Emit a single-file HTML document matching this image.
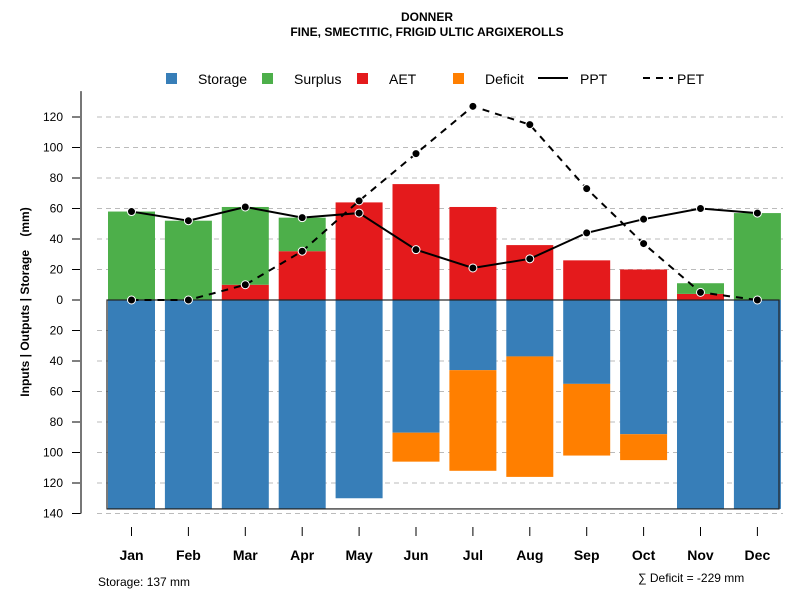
<!DOCTYPE html>
<html><head><meta charset="utf-8"><style>
body{margin:0;background:#fff}
text{font-family:"Liberation Sans",sans-serif;fill:#000}
</style></head><body>
<svg id="chart" width="800" height="600" xmlns="http://www.w3.org/2000/svg">
<text x="427" y="21" font-size="12" font-weight="bold" text-anchor="middle">DONNER</text>
<text x="427" y="36" font-size="12" font-weight="bold" text-anchor="middle">FINE, SMECTITIC, FRIGID ULTIC ARGIXEROLLS</text>
<g id="legend" font-size="14">
<rect x="166" y="73" width="11" height="11" fill="#377EB8"/>
<text x="198" y="84">Storage</text>
<rect x="262" y="73" width="11" height="11" fill="#4DAF4A"/>
<text x="294" y="84">Surplus</text>
<rect x="357" y="73" width="11" height="11" fill="#E41A1C"/>
<text x="389" y="84">AET</text>
<rect x="453" y="73" width="11" height="11" fill="#FF7F00"/>
<text x="485" y="84">Deficit</text>
<line x1="538" y1="78" x2="568" y2="78" stroke="#000" stroke-width="2"/>
<text x="580" y="84">PPT</text>
<line x1="643" y1="78" x2="673" y2="78" stroke="#000" stroke-width="2" stroke-dasharray="7,6"/>
<text x="677" y="84">PET</text>
</g>
<g id="grid"></g><g id="bars"></g><g id="lines"></g><g id="axes"></g>
<text transform="translate(29,302) rotate(-90)" font-size="12" font-weight="bold" text-anchor="middle" xml:space="preserve" style="white-space:pre">Inputs | Outputs | Storage    (mm)</text>
<text x="98" y="586" font-size="12">Storage: 137 mm</text>
<text x="638" y="582" font-size="12">∑ Deficit = -229 mm</text>
</svg>
<script>
const months=["Jan","Feb","Mar","Apr","May","Jun","Jul","Aug","Sep","Oct","Nov","Dec"];
const storage=[137,137,137,137,130,87,46,37,55,88,137,137];
const deficit=[0,0,0,0,0,19,66,79,47,17,0,0];
const aet=[0,0,10,32,64,76,61,36,26,20,4,0];
const surplus=[58,52,51,22,0,0,0,0,0,0,7,57];
const ppt=[58,52,61,54,57,33,21,27,44,53,60,57];
const pet=[0,0,10,32,65,96,127,115,73,37,5,0];
const yTicks=[120,100,80,60,40,20,0,-20,-40,-60,-80,-100,-120,-140];
const yLabels=["120","100","80","60","40","20","0","20","40","60","80","100","120","140"];
const NS="http://www.w3.org/2000/svg";
const Y=v=>300-v*1.525;
const X=i=>131.5+i*56.9;
const BW=47;
function mk(p,tag,at){const e=document.createElementNS(NS,tag);for(const k in at)e.setAttribute(k,at[k]);document.getElementById(p).appendChild(e);return e;}
yTicks.forEach((t,i)=>{
 if(t!==0){const g=mk("grid","line",{x1:97,x2:783,y1:Y(t),y2:Y(t),stroke:"#bbb","stroke-dasharray":"5,4"});
 
 }
 const tk=mk("axes","line",{x1:72,x2:81,y1:Y(t),y2:Y(t),stroke:"#000"});
 
 
 const tl=mk("axes","text",{x:63,y:Y(t)+4,"font-size":12,"text-anchor":"end"});tl.textContent=yLabels[i];
 
 
});
const ax=mk("axes","line",{x1:81,x2:81,y1:Y(137),y2:Y(-140),stroke:"#777","stroke-width":2});


months.forEach((m,i)=>{
 const x=X(i)-BW/2;
 const b1=mk("bars","rect",{x:x,y:Y(0),width:BW,height:Y(-storage[i])-Y(0),fill:"#377EB8"});
 
 
 if(deficit[i]>0){const b2=mk("bars","rect",{x:x,y:Y(-storage[i]),width:BW,height:Y(-storage[i]-deficit[i])-Y(-storage[i]),fill:"#FF7F00"});
 
 }
 if(aet[i]>0){const b3=mk("bars","rect",{x:x,y:Y(aet[i]),width:BW,height:Y(0)-Y(aet[i]),fill:"#E41A1C"});
 
 }
 if(surplus[i]>0){const b4=mk("bars","rect",{x:x,y:Y(aet[i]+surplus[i]),width:BW,height:Y(aet[i])-Y(aet[i]+surplus[i]),fill:"#4DAF4A"});
 
 }
 const xt=mk("axes","line",{x1:X(i),x2:X(i),y1:527,y2:536,stroke:"#000"});
 
 
 const xl=mk("axes","text",{x:X(i),y:560,"font-size":14,"font-weight":"bold","text-anchor":"middle"});xl.textContent=m;
 
 
});
const box=mk("bars","rect",{x:107,y:300,width:672,height:Y(-137)-300,fill:"none",stroke:"#222","stroke-width":1.2});


[[ppt,"ppt-line",""],[pet,"pet-line","7,6"]].forEach(([d,n,da])=>{
 const pl=mk("lines","polyline",{points:d.map((v,i)=>X(i)+","+Y(v)).join(" "),fill:"none",stroke:"#000","stroke-width":2,"stroke-dasharray":da});
 
 
 d.forEach((v,i)=>{const c=mk("lines","circle",{cx:X(i),cy:Y(v),r:4,fill:"#000",stroke:"#fff","stroke-width":1});
 
 });
});
</script>
</body></html>
